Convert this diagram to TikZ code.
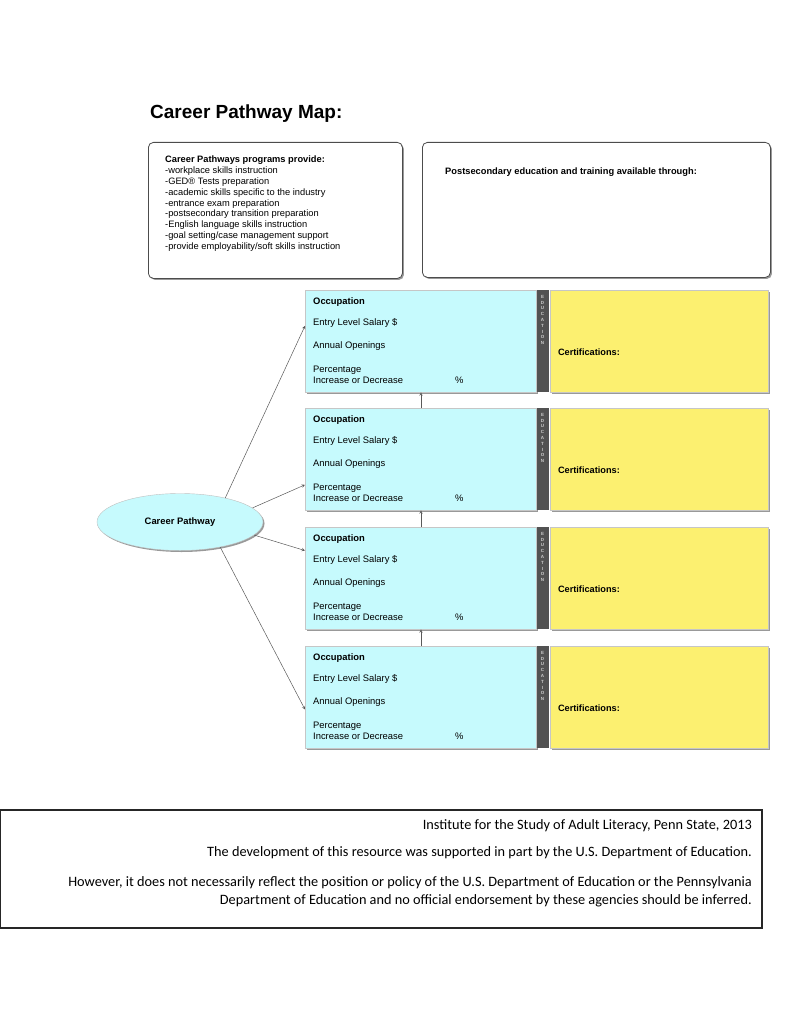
\documentclass[tikz,border=0pt]{standalone}
\usepackage{fontspec}
\setmainfont{Liberation Sans}
\newfontfamily\footfont{Carlito}
\usetikzlibrary{shapes,arrows,positioning,shadows,calc}

\definecolor{occcyan}{RGB}{198,250,253}
\definecolor{certyellow}{RGB}{252,240,112}
\definecolor{edugray}{RGB}{82,82,82}

\tikzset{
  boxshadow/.style={drop shadow={shadow xshift=1.5pt,shadow yshift=-1.5pt,fill=gray!80,opacity=1}},
  infobox/.style={draw=gray!60!black,line width=0.8pt,rounded corners=5pt,fill=white,inner sep=0pt,boxshadow},
  occbox/.style={draw=gray!45,fill=occcyan,minimum width=231pt,minimum height=102pt,inner sep=0pt,boxshadow},
  edubar/.style={fill=edugray,minimum width=12pt,minimum height=102pt,inner sep=0pt},
  edutext/.style={text=gray!40,inner sep=0pt,align=center,font=\fontsize{4.5}{5.8}\selectfont\bfseries},
  certbox/.style={draw=gray!45,fill=certyellow,minimum width=218pt,minimum height=102pt,inner sep=0pt,boxshadow},
  occtext/.style={anchor=west,inner sep=0pt,font=\fontsize{9.4}{10}\selectfont},
  conn/.style={->,>=stealth,draw=gray!70!black,line width=0.5pt}
}

\begin{document}
\begin{tikzpicture}[x=1pt,y=1pt,node distance=16pt]
\useasboundingbox (0,0) rectangle (791,-1024);

\node[anchor=west,inner sep=0pt,font=\fontsize{19}{22}\selectfont\bfseries] (title) at (150,-114) {Career Pathway Map:};

% top boxes
\node[infobox,anchor=north west,minimum width=254pt,minimum height=136pt] (provide) at (148,-142) {};
\node[anchor=north west,inner sep=0pt,align=left,font=\fontsize{9.3}{10.8}\selectfont] at (165,-156)
  {\textbf{Career Pathways programs provide:}\\
   -workplace skills instruction\\
   -GED\textregistered{} Tests preparation\\
   -academic skills specific to the industry\\
   -entrance exam preparation\\
   -postsecondary transition preparation\\
   -English language skills instruction\\
   -goal setting/case management support\\
   -provide employability/soft skills instruction};
\node[infobox,anchor=north west,minimum width=348pt,minimum height=135pt] (postsec) at (422,-142) {};
\node[anchor=west,inner sep=0pt,font=\fontsize{9.3}{10}\selectfont\bfseries] at (445,-172)
  {Postsecondary education and training available through:};

% occupation rows
\foreach \i/\top in {1/290,2/408,3/527,4/646}{
  \node[occbox,anchor=north west] (occ\i) at (305,-\top) {};
  \node[edubar,right=0pt of occ\i] (edu\i) {};
  \node[edutext,below=5pt of edu\i.north] {E\\D\\U\\C\\A\\T\\I\\O\\N};
  \node[certbox,right=1pt of edu\i] (cert\i) {};
  \node[occtext,font=\fontsize{9.4}{10}\selectfont\bfseries] at ($(occ\i.north west)+(8,-12)$) {Occupation};
  \node[occtext] at ($(occ\i.north west)+(8,-33)$) {Entry Level Salary \$};
  \node[occtext] at ($(occ\i.north west)+(8,-56)$) {Annual Openings};
  \node[occtext] at ($(occ\i.north west)+(8,-80)$) {Percentage};
  \node[occtext] at ($(occ\i.north west)+(8,-90)$) {Increase or Decrease};
  \node[occtext] at ($(occ\i.north west)+(150,-90)$) {\%};
  \node[occtext,font=\fontsize{9.2}{10}\selectfont\bfseries] at ($(cert\i.north west)+(8,-62)$) {Certifications:};
}

\node[ellipse,draw=gray!50,fill=occcyan,minimum width=166pt,minimum height=57pt,boxshadow,
  font=\fontsize{9.4}{10}\selectfont\bfseries] (cp) at (180,-522) {Career Pathway};

\draw[conn] (cp.28) -- ($(occ1.north west)!0.35!(occ1.south west)$);
\draw[conn] (cp.11) -- ($(occ2.north west)!0.75!(occ2.south west)$);
\draw[conn] (cp.-10) -- ($(occ3.north west)!0.23!(occ3.south west)$);
\draw[conn] (cp.-32) -- ($(occ4.north west)!0.62!(occ4.south west)$);
\foreach \a/\b in {2/1,3/2,4/3}
  \draw[conn] ($(occ\a.north west)+(116,0)$) -- ($(occ\b.south west)+(116,0)$);

% footer
\draw[gray!30!black,line width=1.2pt] (0.6,-810) rectangle (762,-928);
\node[anchor=east,inner sep=0pt,font=\footfont\fontsize{14.3}{18}\selectfont] at (752,-826)
  {Institute for the Study of Adult Literacy, Penn State, 2013};
\node[anchor=east,inner sep=0pt,font=\footfont\fontsize{14.3}{18}\selectfont] at (752,-853)
  {The development of this resource was supported in part by the U.S. Department of Education.};
\node[anchor=east,inner sep=0pt,align=right,font=\footfont\fontsize{14.3}{18}\selectfont] at (752,-892)
  {However, it does not necessarily reflect the position or policy of the U.S. Department of Education or the Pennsylvania\\
   Department of Education and no official endorsement by these agencies should be inferred.};
\end{tikzpicture}
\end{document}
